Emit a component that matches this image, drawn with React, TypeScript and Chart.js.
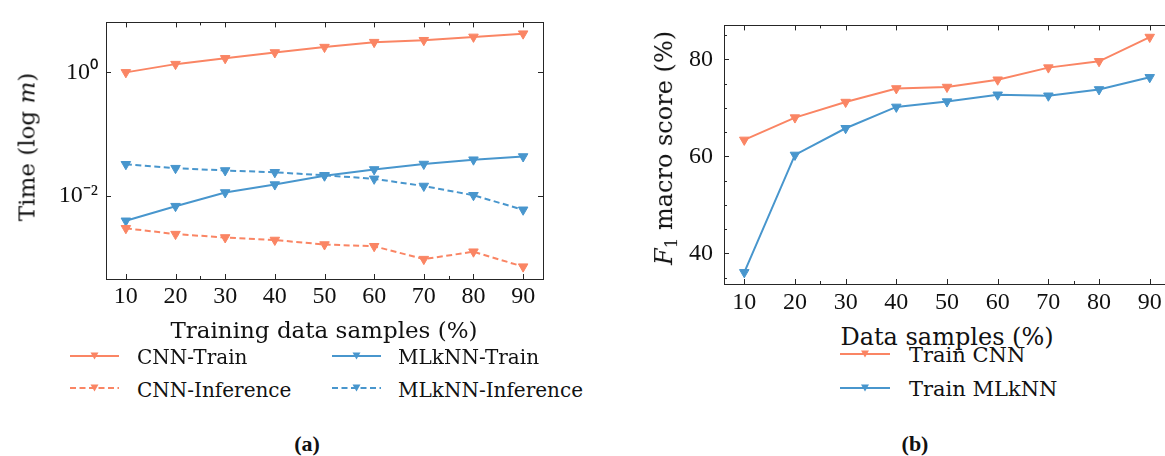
import React, { useEffect, useRef } from 'react';
import { Chart, registerables } from 'chart.js';

Chart.register(...registerables);

// ---------- data ----------
const samplePercent = [10, 20, 30, 40, 50, 60, 70, 80, 90];
const cnnTrainTime = [1.0, 1.36, 1.69, 2.1, 2.57, 3.09, 3.32, 3.76, 4.24];
const cnnInferenceTime = [0.00297, 0.00239, 0.00211, 0.00192, 0.00162, 0.00152, 0.00094, 0.00124, 0.00071];
const mlknnTrainTime = [0.00393, 0.00678, 0.0113, 0.0152, 0.0211, 0.0267, 0.0327, 0.0384, 0.0433];
const mlknnInferenceTime = [0.0324, 0.028, 0.0257, 0.024, 0.0215, 0.0188, 0.0144, 0.0102, 0.00593];
const f1TrainCnn = [63.4, 68.0, 71.2, 74.0, 74.3, 75.8, 78.3, 79.6, 84.6];
const f1TrainMlknn = [36.1, 60.3, 65.8, 70.2, 71.3, 72.7, 72.5, 73.8, 76.3];

const xMinorTicks = [25, 75];
const timeMajorTicks = [0.01, 1];
const timeTickLabels = ['10\u207B\u00B2', '10\u2070'];
const f1MajorTicks = [40, 60, 80];
const f1MinorTicks = [35, 45, 50, 55, 65, 70, 75, 85];

// ---------- styles ----------
const ORANGE = '#FA8564';
const BLUE = '#4896CD';
const AXIS = '#262626';
const TEXT = '#111';
const tickFont = () => ({ family: "'Liberation Serif', serif", size: 24 });
const SERIF = "'DejaVu Serif', serif";

const toPoints = (ys: number[]) => samplePercent.map((x, i) => ({ x, y: ys[i] }));

const series = (label: string, ys: number[], color: string, dashed: boolean) => ({
  label,
  data: toPoints(ys),
  borderColor: color,
  backgroundColor: color,
  borderWidth: 2,
  borderDash: dashed ? [6, 3.5] : [],
  pointStyle: 'triangle',
  rotation: 180,
  pointRadius: 5.5,
  pointBorderWidth: 1,
  tension: 0,
  fill: false,
});

const framePlugin = (xMajor: number[], xMinor: number[], yMajor: number[], yMinor: number[]) => ({
  id: 'frame',
  afterDatasetsDraw(chart: any) {
    const { ctx, chartArea: a, scales } = chart;
    const xs = scales.x;
    const ys = scales.y;
    ctx.save();
    ctx.strokeStyle = AXIS;
    ctx.lineWidth = 1;
    ctx.strokeRect(Math.round(a.left) + 0.5, Math.round(a.top) + 0.5, Math.round(a.right - a.left), Math.round(a.bottom - a.top));
    const vt = (v: number, len: number) => {
      const p = Math.round(xs.getPixelForValue(v)) + 0.5;
      ctx.beginPath();
      ctx.moveTo(p, a.bottom);
      ctx.lineTo(p, a.bottom - len);
      ctx.moveTo(p, a.top);
      ctx.lineTo(p, a.top + len);
      ctx.stroke();
    };
    const ht = (v: number, len: number) => {
      const p = Math.round(ys.getPixelForValue(v)) + 0.5;
      ctx.beginPath();
      ctx.moveTo(a.left, p);
      ctx.lineTo(a.left + len, p);
      ctx.moveTo(a.right, p);
      ctx.lineTo(a.right - len, p);
      ctx.stroke();
    };
    xMajor.forEach((v) => vt(v, 5));
    xMinor.forEach((v) => vt(v, 3));
    yMajor.forEach((v) => ht(v, 5));
    yMinor.forEach((v) => ht(v, 3));
    ctx.restore();
  },
});

function TimeChart() {
  const ref = useRef<HTMLCanvasElement>(null);
  useEffect(() => {
    const chart = new Chart(ref.current!, {
      type: 'line',
      data: {
        datasets: [
          series('CNN-Train', cnnTrainTime, ORANGE, false),
          series('CNN-Inference', cnnInferenceTime, ORANGE, true),
          series('MLkNN-Train', mlknnTrainTime, BLUE, false),
          series('MLkNN-Inference', mlknnInferenceTime, BLUE, true),
        ] as any,
      },
      options: {
        animation: false,
        responsive: false,
        events: [],
        layout: { padding: { left: 0, top: 15, right: 17, bottom: 11 } },
        plugins: { legend: { display: false }, tooltip: { enabled: false } },
        scales: {
          x: {
            type: 'linear',
            min: 6,
            max: 94,
            grid: { display: false, drawTicks: false },
            border: { display: false },
            afterBuildTicks: (s: any) => { s.ticks = samplePercent.map((v) => ({ value: v })); },
            afterFit: (s: any) => { s.height = 30; },
            ticks: { font: tickFont(), color: TEXT, padding: 3, maxRotation: 0, autoSkip: false, callback: (v: any) => String(v) },
          },
          y: {
            type: 'logarithmic',
            min: Math.pow(10, -3.349),
            max: Math.pow(10, 0.81),
            grid: { display: false, drawTicks: false },
            border: { display: false },
            afterBuildTicks: (s: any) => { s.ticks = timeMajorTicks.map((v) => ({ value: v })); },
            afterFit: (s: any) => { s.width = 106; },
            ticks: {
              font: tickFont(), color: TEXT, padding: 8, autoSkip: false,
              callback: (v: any) => timeTickLabels[timeMajorTicks.indexOf(Number(v))] ?? '',
            },
          },
        },
      } as any,
      plugins: [framePlugin(samplePercent, xMinorTicks, timeMajorTicks, [])],
    });
    return () => chart.destroy();
  }, []);
  return <canvas ref={ref} width={560} height={320} style={{ position: 'absolute', left: 0, top: 0, width: 560, height: 320 }} />;
}

function F1Chart() {
  const ref = useRef<HTMLCanvasElement>(null);
  useEffect(() => {
    const chart = new Chart(ref.current!, {
      type: 'line',
      data: {
        datasets: [
          series('Train CNN', f1TrainCnn, ORANGE, false),
          series('Train MLkNN', f1TrainMlknn, BLUE, false),
        ] as any,
      },
      options: {
        animation: false,
        responsive: false,
        events: [],
        layout: { padding: { left: 0, top: 15, right: 15, bottom: 6 } },
        plugins: { legend: { display: false }, tooltip: { enabled: false } },
        scales: {
          x: {
            type: 'linear',
            min: 6,
            max: 94,
            grid: { display: false, drawTicks: false },
            border: { display: false },
            afterBuildTicks: (s: any) => { s.ticks = samplePercent.map((v) => ({ value: v })); },
            afterFit: (s: any) => { s.height = 30; },
            ticks: { font: tickFont(), color: TEXT, padding: 4, maxRotation: 0, autoSkip: false, callback: (v: any) => String(v) },
          },
          y: {
            type: 'linear',
            min: 33.7,
            max: 87.0,
            grid: { display: false, drawTicks: false },
            border: { display: false },
            afterBuildTicks: (s: any) => { s.ticks = f1MajorTicks.map((v) => ({ value: v })); },
            afterFit: (s: any) => { s.width = 84; },
            ticks: { font: tickFont(), color: TEXT, padding: 11, autoSkip: false, callback: (v: any) => String(v) },
          },
        },
      } as any,
      plugins: [framePlugin(samplePercent, xMinorTicks, f1MajorTicks, f1MinorTicks)],
    });
    return () => chart.destroy();
  }, []);
  return <canvas ref={ref} width={545} height={320} style={{ position: 'absolute', left: 640, top: 0, width: 545, height: 320 }} />;
}

function Label(props: { x: number; baseline: number; size: number; center?: boolean; children: React.ReactNode }) {
  const { x, baseline, size, center, children } = props;
  return (
    <div
      style={{
        position: 'absolute',
        left: x,
        top: baseline - 0.846 * size,
        fontFamily: SERIF,
        fontSize: size,
        lineHeight: 1,
        whiteSpace: 'nowrap',
        color: TEXT,
        transform: center ? 'translateX(-50%)' : undefined,
      }}
    >
      {children}
    </div>
  );
}

function VLabel(props: { cx: number; cy: number; size: number; children: React.ReactNode }) {
  return (
    <div
      style={{
        position: 'absolute',
        left: props.cx,
        top: props.cy,
        fontFamily: SERIF,
        fontSize: props.size,
        lineHeight: 1,
        whiteSpace: 'nowrap',
        color: TEXT,
        transform: 'translate(-50%, -50%) rotate(-90deg)',
      }}
    >
      {props.children}
    </div>
  );
}

function Sample(props: { x: number; y: number; w: number; color: string; dashed?: boolean }) {
  const { x, y, w, color, dashed } = props;
  const m = w / 2;
  return (
    <svg style={{ position: 'absolute', left: x, top: y - 6 }} width={w} height={12}>
      <line x1={0} y1={6} x2={w} y2={6} stroke={color} strokeWidth={2} strokeDasharray={dashed ? '6 3.5' : undefined} />
      <polygon points={`${m - 4},2.5 ${m + 4},2.5 ${m},9.5`} fill={color} />
    </svg>
  );
}

function Caption(props: { cx: number; baseline: number; children: React.ReactNode }) {
  const size = 22;
  return (
    <div
      style={{
        position: 'absolute',
        left: props.cx,
        top: props.baseline - 0.8375 * size,
        fontFamily: "'Liberation Serif', serif",
        fontWeight: 'bold',
        fontSize: size,
        lineHeight: 1,
        transform: 'translateX(-50%)',
        color: TEXT,
      }}
    >
      {props.children}
    </div>
  );
}

export default function App() {
  return (
    <div style={{ position: 'relative', width: 1165, height: 456, overflow: 'hidden', background: '#fff' }}>
      <style>{'body{margin:0;overflow:hidden;background:#fff}'}</style>
      <TimeChart />
      <F1Chart />

      <VLabel cx={27} cy={147} size={23}>
        Time (log <i>m</i>)
      </VLabel>
      <Label x={324} baseline={338} size={23} center>
        Training data samples (%)
      </Label>
      <Sample x={70} y={356} w={49} color={ORANGE} />
      <Label x={137} baseline={364} size={20}>CNN-Train</Label>
      <Sample x={332} y={356} w={49} color={BLUE} />
      <Label x={398} baseline={364} size={20}>MLkNN-Train</Label>
      <Sample x={70} y={388} w={49} color={ORANGE} dashed />
      <Label x={137} baseline={397} size={20}>CNN-Inference</Label>
      <Sample x={332} y={388} w={49} color={BLUE} dashed />
      <Label x={398} baseline={397} size={20}>MLkNN-Inference</Label>
      <Caption cx={307} baseline={451}>(a)</Caption>

      <VLabel cx={666} cy={148} size={24}>
        <i>F</i>
        <span style={{ fontSize: '0.7em', verticalAlign: '-0.3em' }}>1</span> macro score (%)
      </VLabel>
      <Label x={947} baseline={345} size={24} center>
        Data samples (%)
      </Label>
      <Sample x={840} y={354} w={50} color={ORANGE} />
      <Label x={909} baseline={363} size={21}>Train CNN</Label>
      <Sample x={840} y={388} w={50} color={BLUE} />
      <Label x={909} baseline={397} size={21}>Train MLkNN</Label>
      <Caption cx={915} baseline={451}>(b)</Caption>
    </div>
  );
}
